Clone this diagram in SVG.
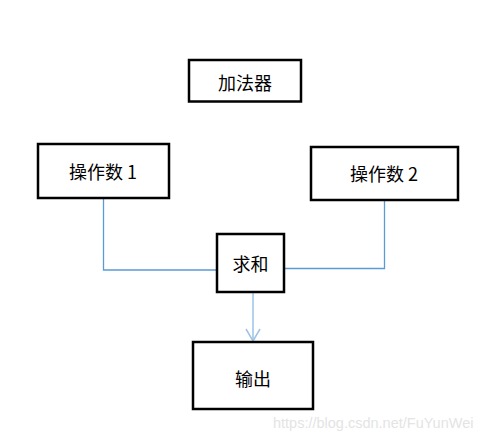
<svg xmlns="http://www.w3.org/2000/svg" width="503" height="437" viewBox="0 0 503 437">
<style>
.box{fill:#fff;stroke:#000;stroke-width:2.5}
.lbl{font-family:"Noto Sans CJK SC","Noto Sans",sans-serif;font-size:18px;fill:#000;text-anchor:middle;dominant-baseline:central}
.conn{fill:none;stroke:#5B9BD5;stroke-width:1.3}
.wm{font-family:"Liberation Sans",Arial,sans-serif;font-size:14.5px;fill:#e4e4e4}
</style>
<defs>
<marker id="arr" markerWidth="16" markerHeight="16" refX="13" refY="8" orient="auto" markerUnits="userSpaceOnUse" viewBox="0 0 16 16">
<path d="M1,1 L13,8 L1,15" fill="none" stroke="#9DC3E6" stroke-width="1.5"/>
</marker>
</defs>
<rect width="503" height="437" fill="#fff"/>
<g id="connectors">
<path class="conn" d="M103.5,198 V270 H217"/>
<path class="conn" d="M384.5,200 V268.5 H284"/>
<path d="M253,292 V341" fill="none" stroke="#9DC3E6" stroke-width="1.5" marker-end="url(#arr)"/>
</g>
<g id="adder">
<rect class="box" x="189" y="60" width="112" height="41.5"/>
<text class="lbl" x="245" y="82">加法器</text>
</g>
<g id="op1">
<rect class="box" x="38" y="144" width="131" height="54"/>
<text class="lbl" x="103" y="171">操作数 1</text>
</g>
<g id="op2">
<rect class="box" x="311" y="147" width="147" height="53"/>
<text class="lbl" x="384" y="173">操作数 2</text>
</g>
<g id="sum">
<rect class="box" x="217" y="234" width="67" height="58"/>
<text class="lbl" x="250.5" y="263">求和</text>
</g>
<g id="output">
<rect class="box" x="193" y="342" width="120" height="67"/>
<text class="lbl" x="253" y="378">输出</text>
</g>
<text class="wm" x="273" y="428">https://blog.csdn.net/FuYunWei</text>
</svg>
